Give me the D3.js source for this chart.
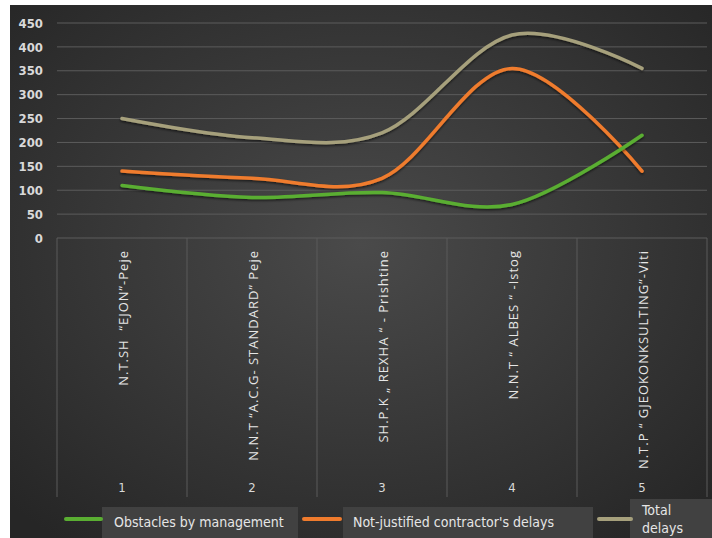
<!DOCTYPE html>
<html>
<head>
<meta charset="utf-8">
<script src="https://cdn.jsdelivr.net/npm/d3@7"></script>
<style>
html,body{margin:0;padding:0;background:#fff;}
svg{display:block;}
</style>
</head>
<body>
<svg id="chart" width="712" height="538"></svg>
<script>
const categories = ["1","2","3","4","5"];
const categoryNames = [
  "N.T.SH  \u201cEJON\u201d-Peje",
  "N.N.T \u201cA.C.G- STANDARD\u201d Peje",
  "SH.P.K \u201e REXHA \u201c - Prishtine",
  "N.N.T \u201c ALBES \u201c -Istog",
  "N.T.P \u201c GJEOKONKSULTING\u201d-Viti"
];
const obstacles = [110, 85, 95, 70, 215];
const contractorDelays = [140, 125, 125, 355, 140];
const totalDelays = [250, 210, 220, 425, 355];
const yTicks = [0, 50, 100, 150, 200, 250, 300, 350, 400, 450];
const seriesNames = ["Obstacles by management", "Not-justified contractor's delays", "Total delays"];
const seriesColors = ["#5aae32", "#ef7b2d", "#a6a07c"];

const svg = d3.select("#chart");
const defs = svg.append("defs");
const grad = defs.append("radialGradient").attr("id","bg").attr("cx","50%").attr("cy","45%").attr("r","70%");
grad.append("stop").attr("offset","0%").attr("stop-color","#4a4a4a");
grad.append("stop").attr("offset","100%").attr("stop-color","#262626");
const sh = defs.append("filter").attr("id","shadow").attr("x","-10%").attr("y","-10%").attr("width","120%").attr("height","130%");
sh.append("feDropShadow").attr("dx",0).attr("dy",1.5).attr("stdDeviation",1.2).attr("flood-color","#000").attr("flood-opacity",0.6);

svg.append("rect").attr("x",10).attr("y",5).attr("width",702).attr("height",533).attr("fill","url(#bg)");

const pLeft = 57, pRight = 707, pTop = 23, pBottom = 238;
const x = d3.scaleBand().domain(categories).range([pLeft, pRight]);
const y = d3.scaleLinear().domain([0, 450]).range([pBottom, pTop]);
const font = "'DejaVu Sans Condensed', 'DejaVu Sans', sans-serif";

// gridlines
svg.append("g").selectAll("line").data(yTicks.filter(d => d > 0)).join("line")
  .attr("x1", pLeft).attr("x2", pRight)
  .attr("y1", d => y(d)).attr("y2", d => y(d))
  .attr("stroke", "#5c5c5c").attr("stroke-width", 1);

// y axis labels
const yAxis = d3.axisLeft(y).tickValues(yTicks).tickSize(0).tickPadding(14);
const ya = svg.append("g").attr("transform", `translate(${pLeft},0)`).call(yAxis);
ya.select(".domain").remove();
ya.selectAll("text").attr("fill", "#d9d9d9").attr("font-family", font).attr("font-size", 13).attr("font-weight", "bold");

// category frame
const catBottom = 497;
svg.append("line").attr("x1", pLeft).attr("x2", pRight).attr("y1", pBottom).attr("y2", pBottom)
  .attr("stroke", "#5c5c5c").attr("stroke-width", 1);
const bounds = categories.map(c => x(c)).concat([pRight]);
svg.append("g").selectAll("line").data(bounds).join("line")
  .attr("x1", d => d).attr("x2", d => d).attr("y1", pBottom).attr("y2", catBottom)
  .attr("stroke", "#5a5a5a").attr("stroke-width", 1);

// category names (rotated)
svg.append("g").selectAll("text").data(categories).join("text")
  .attr("transform", d => `translate(${x(d) + x.bandwidth()/2 + 5.5},${pBottom + 12}) rotate(-90)`)
  .attr("text-anchor", "end")
  .attr("fill", "#e6e6e6").attr("font-family", "'Open Sans', 'DejaVu Sans', sans-serif").attr("font-size", 13)
  .attr("letter-spacing", 1)
  .style("white-space", "pre")
  .text((d, i) => categoryNames[i]);

// category numbers
svg.append("g").selectAll("text").data(categories).join("text")
  .attr("x", d => x(d) + x.bandwidth()/2).attr("y", 492)
  .attr("text-anchor", "middle").attr("fill", "#d9d9d9")
  .attr("font-family", font).attr("font-size", 13).text(d => d);

// lines
const series = [obstacles, contractorDelays, totalDelays];
const line = d3.line()
  .x((d, i) => x(categories[i]) + x.bandwidth()/2)
  .y(d => y(d))
  .curve(d3.curveCatmullRom.alpha(0));
const drawOrder = [2, 1, 0];
svg.append("g").selectAll("path").data(drawOrder).join("path")
  .attr("d", k => line(series[k]))
  .attr("fill", "none")
  .attr("stroke", k => seriesColors[k])
  .attr("stroke-width", 3.5)
  .attr("stroke-linecap", "round")
  .attr("filter", "url(#shadow)");

// legend
const legend = [
  {sx1: 66, sx2: 101, bx: 102, bw: 196, by: 507, tx: 114},
  {sx1: 304, sx2: 340, bx: 343, bw: 250, by: 507, tx: 353},
  {sx1: 599, sx2: 631, bx: 630, bw: 82, by: 499, tx: 642}
];
const lg = svg.append("g");
legend.forEach((l, i) => {
  lg.append("rect").attr("x", l.bx).attr("y", l.by).attr("width", l.bw).attr("height", 538 - l.by)
    .attr("fill", "#414141");
  lg.append("line").attr("x1", l.sx1).attr("x2", l.sx2).attr("y1", 519).attr("y2", 519)
    .attr("stroke", seriesColors[i]).attr("stroke-width", 4).attr("stroke-linecap", "round");
});
lg.append("text").attr("x", legend[0].tx).attr("y", 527).attr("fill", "#e6e6e6")
  .attr("font-family", font).attr("font-size", 14).text(seriesNames[0]);
lg.append("text").attr("x", legend[1].tx).attr("y", 527).attr("fill", "#e6e6e6")
  .attr("font-family", font).attr("font-size", 14).text(seriesNames[1]);
const t3 = lg.append("text").attr("x", legend[2].tx).attr("y", 515).attr("fill", "#e6e6e6")
  .attr("font-family", font).attr("font-size", 14);
t3.append("tspan").attr("x", legend[2].tx).text("Total");
t3.append("tspan").attr("x", legend[2].tx).attr("dy", 18).text("delays");
</script>
</body>
</html>
